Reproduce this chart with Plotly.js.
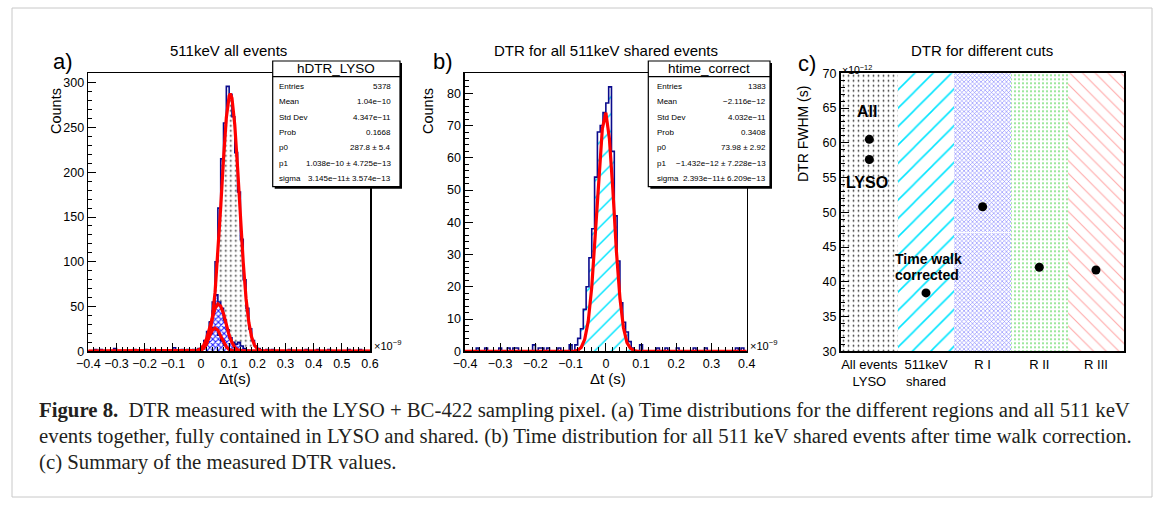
<!DOCTYPE html>
<html><head><meta charset="utf-8">
<script src="https://cdn.plot.ly/plotly-3.0.1.min.js"></script>
<style>html,body{margin:0;padding:0;background:#fff}#chart{width:1165px;height:509px}</style>
</head><body><div id="chart"></div>
<script>
// ================= DATA =================
// Panel a: histogram bins (x in units of 1e-9 s)
const histA_xMin = -0.4, histA_binW = 0.01;
const countsA_LYSO = [
  0,0,2,0,2,0,0,0,0,3,
  0,0,0,0,0,0,2,0,0,0,
  2,0,0,2,0,0,0,0,0,0,
  4,0,0,2,0,2,1,2,2,3,
  5,10,18,32,55,100,160,215,255,296,
  287,262,222,178,125,80,48,25,12,6,
  3,1,0,2,0,2,0,0,0,0,
  0,2,0,0,0,0,0,2,0,0,
  0,2,0,0,0,2,0,0,0,0,
  0,0,2,0,0,0,2,0,0,0];
const countsA_region1 = [
  0,0,0,0,0,0,0,0,0,0,
  0,0,0,0,0,0,0,0,0,0,
  0,0,0,0,0,0,0,0,0,0,
  0,0,0,0,0,0,0,0,1,2,
  5,12,22,33,45,63,55,48,35,24,
  15,10,8,10,6,3,1,0,0,0,
  0,0,0,0,0,0,0,0,0,0,
  0,0,0,0,0,0,0,0,0,0,
  0,0,0,0,0,0,0,0,0,0,
  0,0,0,0,0,0,0,0,0,0];
const countsA_region2 = [
  0,0,0,0,0,0,0,0,0,0,
  0,0,0,0,0,0,0,0,0,0,
  0,0,0,0,0,0,0,0,0,0,
  0,0,0,0,0,0,0,0,0,1,
  3,8,14,20,26,24,18,12,7,4,
  2,1,0,0,0,0,0,0,0,0,
  0,0,0,0,0,0,0,0,0,0,
  0,0,0,0,0,0,0,0,0,0,
  0,0,0,0,0,0,0,0,0,0,
  0,0,0,0,0,0,0,0,0,0];
// Panel a: fitted gaussians (red)
const fitA_main_x = [-0.4,-0.01,0.00,0.01,0.02,0.03,0.04,0.05,0.06,0.07,0.08,0.09,0.10,0.104,0.11,0.12,0.13,0.14,0.15,0.16,0.17,0.18,0.19,0.20,0.21,0.22,0.6];
const fitA_main_y = [0,0.3,1.2,3.4,8.2,18,36.5,66,108,161,215,261,285,288,283,253,205,150,99,59,32,15.6,6.9,2.8,1.0,0.3,0];
const fitA_r1_x = [-0.4,-0.01,0.00,0.01,0.02,0.03,0.04,0.05,0.06,0.07,0.08,0.09,0.10,0.11,0.12,0.13,0.14,0.15,0.6];
const fitA_r1_y = [0,1.2,3,7,14,25,37,48,53,50.5,42,30,18,9.7,4.4,1.8,0.6,0.2,0];
const fitA_r2_x = [-0.4,-0.01,0.00,0.01,0.02,0.03,0.04,0.05,0.06,0.07,0.08,0.09,0.10,0.11,0.12,0.6];
const fitA_r2_y = [0,0.6,2,5,10,17,23.5,26,23.5,17,10,5,2,0.6,0.1,0];

// Panel b: histogram bins (x in units of 1e-9 s)
const histB_xMin = -0.4, histB_binW = 0.008;
const countsB_shared = [
  0,0,0,0,1,0,0,1,0,0,
  0,0,1,0,0,1,0,1,1,0,
  0,0,0,0,2,0,1,1,0,1,
  0,0,0,1,0,0,0,2,0,2,
  4,7,13,20,29,38,54,68,70,74,
  77,82,62,42,28,15,9,6,3,1,
  0,0,2,0,0,0,0,0,1,0,
  0,1,0,0,0,1,0,0,0,0,
  0,1,0,0,0,1,0,0,0,0,
  0,0,0,0,0,0,1,0,1,0];
const fitB_x = [-0.4,-0.09,-0.08,-0.07,-0.06,-0.05,-0.04,-0.03,-0.02,-0.01,0.00,0.01,0.02,0.03,0.04,0.05,0.06,0.07,0.08,0.09,0.4];
const fitB_y = [0,0,0.3,1.2,3.7,9.3,20,36,55,69,74,66,50,31,16.5,7.3,2.7,0.9,0.2,0,0];

// Panel c: DTR FWHM (units 1e-12 s)
const cutLabels = ["All events<br>LYSO","511keV<br>shared","R I","R II","R III"];
const dtrCutIndex = [0,0,1,2,3,4];
const dtrValues = [60.5,57.6,38.4,50.8,42.1,41.7];
const dtrAxisMin = 30, dtrAxisMax = 70;

// Stat boxes
const statA = {name:"hDTR_LYSO", rows:[["Entries","5378"],["Mean","1.04e\u221210"],["Std Dev","4.347e\u221211"],["Prob","0.1668"],["p0","287.8 \u00b1 5.4"],["p1","1.038e\u221210 \u00b1 4.725e\u221213"],["sigma","3.145e\u221211\u00b1 3.574e\u221213"]]};
const statB = {name:"htime_correct", rows:[["Entries","1383"],["Mean","\u22122.116e\u221212"],["Std Dev","4.032e\u221211"],["Prob","0.3408"],["p0","73.98 \u00b1 2.92"],["p1","\u22121.432e\u221212 \u00b1 7.228e\u221213"],["sigma","2.393e\u221211\u00b1 6.209e\u221213"]]};

// ================= HELPERS =================
const W = 1165, H = 509;
const PX = x => x / W, PY = y => 1 - y / H;
const SANS = "Liberation Sans, Arial, Helvetica, sans-serif";
const SERIF = "Liberation Serif, Times New Roman, serif";

function stepXY(xMin, binW, counts){
  const xs = counts.map((_, i) => xMin + i * binW);
  xs.push(xMin + counts.length * binW);
  const ys = counts.concat([counts[counts.length - 1]]);
  return {xs, ys};
}
function histTrace(xMin, binW, counts, xa, ya, pattern){
  const s = stepXY(xMin, binW, counts);
  return {type:'scatter', mode:'lines', x:s.xs, y:s.ys, xaxis:xa, yaxis:ya,
    line:{shape:'hv', color:'#0a0a8c', width:1.6},
    fill:'tozeroy', fillcolor:'white', fillpattern:pattern, hoverinfo:'skip'};
}
function fitTrace(xs, ys, xa, ya){
  return {type:'scatter', mode:'lines', x:xs, y:ys, xaxis:xa, yaxis:ya,
    line:{color:'#ff0000', width:3.2}, hoverinfo:'skip'};
}

const traces = [];
// Panel a
traces.push(histTrace(histA_xMin, histA_binW, countsA_LYSO, 'x', 'y',
  {shape:'.', fgcolor:'#333', bgcolor:'white', size:5, solidity:0.1}));
traces.push(histTrace(histA_xMin, histA_binW, countsA_region1, 'x', 'y',
  {shape:'x', fgcolor:'#1a1aff', bgcolor:'white', size:4, solidity:0.45}));
traces.push(histTrace(histA_xMin, histA_binW, countsA_region2, 'x', 'y',
  {shape:'x', fgcolor:'#1a1aff', bgcolor:'white', size:4, solidity:0.45}));
traces.push(fitTrace(fitA_main_x, fitA_main_y, 'x', 'y'));
traces.push(fitTrace(fitA_r1_x, fitA_r1_y, 'x', 'y'));
traces.push(fitTrace(fitA_r2_x, fitA_r2_y, 'x', 'y'));
// Panel b
traces.push(histTrace(histB_xMin, histB_binW, countsB_shared, 'x2', 'y2',
  {shape:'/', fgcolor:'#00e5ff', bgcolor:'white', size:12, solidity:0.12}));
traces.push(fitTrace(fitB_x, fitB_y, 'x2', 'y2'));
// Panel c background regions
traces.push({type:'bar', x:cutLabels.map((_, i) => i + 0.5), y:cutLabels.map(() => dtrAxisMax - dtrAxisMin),
  base:dtrAxisMin, width:1, xaxis:'x3', yaxis:'y3', hoverinfo:'skip',
  marker:{color:'white', line:{width:0}, pattern:{
    shape:['.','/','x','.','\\'],
    fgcolor:['#333','#00e5ff','#8080ff','#7ee07e','#ffa8a8'],
    bgcolor:'white',
    size:[5,13,3,4,9],
    solidity:[0.1,0.12,0.35,0.2,0.12]}}});
traces.push({type:'scatter', mode:'markers', x:dtrCutIndex.map(i => i + 0.5), y:dtrValues,
  xaxis:'x3', yaxis:'y3', marker:{color:'black', size:9}, hoverinfo:'skip'});

// ================= LAYOUT =================
const yTop = 73.3, yBot = 351.3;
const TICKF = {family:SANS, size:12.5, color:'black'};
const commonAxis = {showline:true, mirror:true, linecolor:'black', linewidth:1.6,
  ticks:'inside', ticklen:8, tickwidth:1, tickcolor:'black', showgrid:false, zeroline:false,
  tickfont:TICKF};

const layout = {
  width:W, height:H, margin:{l:0,r:0,t:0,b:0}, paper_bgcolor:'white', plot_bgcolor:'white',
  showlegend:false, hovermode:false, bargap:0,
  xaxis: Object.assign({}, commonAxis, {domain:[PX(88.3), PX(370)], range:[-0.4,0.6], dtick:0.1, tick0:0,
    anchor:'y', minor:{dtick:0.02, ticks:'inside', ticklen:4, tickcolor:'black', showgrid:false}}),
  yaxis: Object.assign({}, commonAxis, {domain:[PY(yBot), PY(yTop)], range:[0,310.6], dtick:50,
    anchor:'x', minor:{dtick:10, ticks:'inside', ticklen:4, tickcolor:'black', showgrid:false}}),
  xaxis2: Object.assign({}, commonAxis, {domain:[PX(465), PX(746.7)], range:[-0.4,0.4], dtick:0.1, tick0:0,
    anchor:'y2', minor:{dtick:0.02, ticks:'inside', ticklen:4, tickcolor:'black', showgrid:false}}),
  yaxis2: Object.assign({}, commonAxis, {domain:[PY(yBot), PY(yTop)], range:[0,86.2], dtick:10,
    anchor:'x2', minor:{dtick:2, ticks:'inside', ticklen:4, tickcolor:'black', showgrid:false}}),
  xaxis3: Object.assign({}, commonAxis, {domain:[PX(841), PX(1124.3)], range:[0,5], ticks:'',
    tickvals:cutLabels.map((_, i) => i + 0.5), ticktext:cutLabels, anchor:'y3', linewidth:2,
    tickfont:{family:SANS, size:13, color:'black'}}),
  yaxis3: Object.assign({}, commonAxis, {domain:[PY(yBot), PY(yTop)], range:[dtrAxisMin,dtrAxisMax], dtick:5,
    anchor:'x3', linewidth:2, minor:{dtick:1, ticks:'inside', ticklen:4, tickcolor:'black', showgrid:false}}),
  shapes:[], annotations:[]
};

// figure border
layout.shapes.push({type:'rect', xref:'paper', yref:'paper', x0:PX(12), x1:PX(1152), y0:PY(497), y1:PY(8),
  line:{color:'#c8c8c8', width:1}, layer:'below'});
// thin white line across R I region (as in reference)
layout.shapes.push({type:'line', xref:'x3', yref:'y3', x0:2, x1:3, y0:47.1, y1:47.1, line:{color:'white', width:1}, layer:'above'});

function addStatBox(stat, x0, x1, labelX, valueX){
  const top = 61, sep = 76.7, bot = 186.7;
  layout.shapes.push({type:'rect', xref:'paper', yref:'paper', x0:PX(x0+2), x1:PX(x1+2), y0:PY(bot+2), y1:PY(top+2),
    fillcolor:'black', line:{width:0}, layer:'above'});
  layout.shapes.push({type:'rect', xref:'paper', yref:'paper', x0:PX(x0), x1:PX(x1), y0:PY(bot), y1:PY(top),
    fillcolor:'white', line:{color:'black', width:1.2}, layer:'above'});
  layout.shapes.push({type:'line', xref:'paper', yref:'paper', x0:PX(x0), x1:PX(x1), y0:PY(sep), y1:PY(sep),
    line:{color:'black', width:1.2}, layer:'above'});
  layout.annotations.push({xref:'paper', yref:'paper', x:PX((x0+x1)/2), y:PY((top+sep)/2), text:stat.name,
    showarrow:false, xanchor:'center', yanchor:'middle', font:{family:SANS, size:13.5, color:'black'}});
  stat.rows.forEach((r, k) => {
    const yy = 86.5 + 15.35 * k;
    layout.annotations.push({xref:'paper', yref:'paper', x:PX(labelX), y:PY(yy), text:r[0], showarrow:false,
      xanchor:'left', yanchor:'middle', font:{family:SANS, size:8, color:'black'}});
    layout.annotations.push({xref:'paper', yref:'paper', x:PX(valueX), y:PY(yy), text:r[1], showarrow:false,
      xanchor:'right', yanchor:'middle', font:{family:SANS, size:8, color:'black'}});
  });
}
addStatBox(statA, 272.7, 400, 276.5, 393);
addStatBox(statB, 648.3, 770, 654.5, 767.5);

function ann(x, y, text, size, opts){
  layout.annotations.push(Object.assign({xref:'paper', yref:'paper', x:PX(x), y:PY(y), text:text, showarrow:false,
    xanchor:'center', yanchor:'middle', font:{family:SANS, size:size, color:'black'}}, opts || {}));
}
// panel letters and titles
ann(63, 62, 'a)', 22);
ann(443, 62, 'b)', 22);
ann(807, 63, 'c)', 22);
ann(229, 50, '511keV all events', 15);
ann(606, 50, 'DTR for all 511keV shared events', 15);
ann(982, 50, 'DTR for different cuts', 15);
// axis titles
ann(56, 111, 'Counts', 14.5, {textangle:-90});
ann(428, 111, 'Counts', 14.5, {textangle:-90});
ann(803, 134, 'DTR FWHM (s)', 14, {textangle:-90});
ann(235, 378, '\u0394t(s)', 15);
ann(608, 378, '\u0394t (s)', 15);
// exponents
ann(372, 345, '\u00d710<sup>\u22129</sup>', 11, {xanchor:'left'});
ann(748, 345, '\u00d710<sup>\u22129</sup>', 11, {xanchor:'left'});
ann(840, 70, '\u00d710<sup>\u221212</sup>', 10.5, {xanchor:'left'});
// panel c labels
ann(867, 112, '<b>All</b>', 16);
ann(867, 182, '<b>LYSO</b>', 16);
ann(893, 259, '<b>Time walk</b>', 14, {xanchor:'left'});
ann(893, 275, '<b>corrected</b>', 14, {xanchor:'left'});
// caption
const capFont = {family:SERIF, size:20.8, color:'#231f20'};
const capLines = [
  '<b>Figure 8.</b>  DTR measured with the LYSO + BC-422 sampling pixel. (a) Time distributions for the different regions and all 511 keV',
  'events together, fully contained in LYSO and shared. (b) Time distribution for all 511\u00a0keV shared events after time walk correction.',
  '(c) Summary of the measured DTR values.'];
capLines.forEach((t, k) => ann(37, 410 + 26 * k, t, 20.8, {xanchor:'left', font:capFont}));

Plotly.newPlot('chart', traces, layout, {staticPlot:true, displayModeBar:false}).then(gd => {
  // the first caption line is justified in the reference: widen its word gaps to the full text width
  const targetWidth = 1091;
  gd.querySelectorAll('.annotation-text').forEach(t => {
    if (t.textContent.indexOf('Figure') !== 0) return;
    const b0 = t.getBBox();
    t.style.wordSpacing = '2px';
    const b1 = t.getBBox();
    const perPx = (b1.width - b0.width) / 2;
    const s = perPx > 0 ? (targetWidth - b0.width) / perPx : 0;
    t.style.wordSpacing = s.toFixed(2) + 'px';
    const b2 = t.getBBox();
    t.setAttribute('transform', 'translate(' + (b0.x - b2.x).toFixed(2) + ',0)');
  });
});
</script></body></html>
